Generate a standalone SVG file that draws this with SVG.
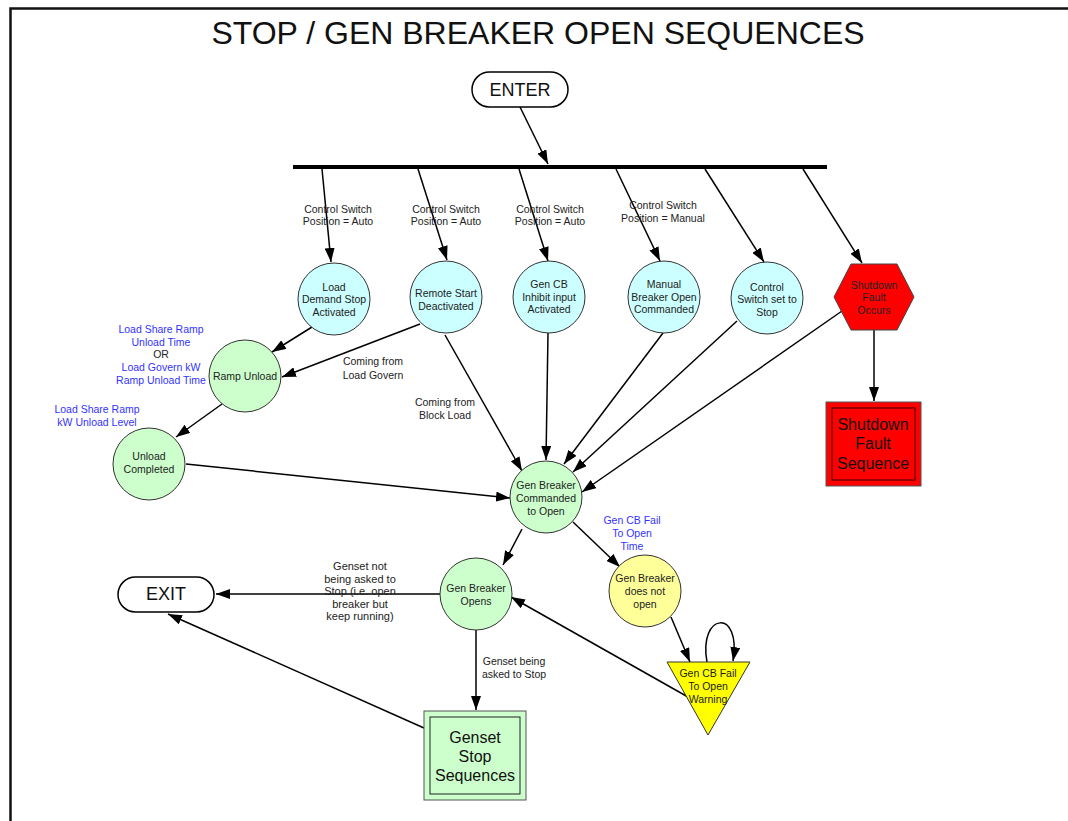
<svg xmlns="http://www.w3.org/2000/svg" width="1068" height="821" viewBox="0 0 1068 821">
  <style>
    text { font-family: "Liberation Sans", Arial, sans-serif; text-anchor: middle; }
    .sm { font-size: 10.5px; fill: #222; }
    .md { font-size: 11px; fill: #222; }
    .blue { font-size: 10.5px; fill: #3333ff; }
    .big { font-size: 16px; fill: #111; }
    .term { font-size: 18px; fill: #111; }
    .cyan { fill: #ccffff; stroke: #333; stroke-width: 1; }
    .green { fill: #ccffcc; stroke: #333; stroke-width: 1; }
    .pale { fill: #ffff99; stroke: #333; stroke-width: 1; }
    .conn line, .conn path { stroke: #000; stroke-width: 1.5; fill: none; marker-end: url(#arrow); }
  </style>
  <defs>
    <marker id="arrow" markerUnits="userSpaceOnUse" viewBox="0 0 14 10" markerWidth="14" markerHeight="10" refX="14" refY="5" orient="auto">
      <path d="M0,0 L14,5 L0,10 z" fill="#000"/>
    </marker>
  </defs>

  <rect width="1068" height="821" fill="#fff"/>

  <!-- frame -->
  <path d="M10.5,821 V8.5 H1068" fill="none" stroke="#111" stroke-width="2.5"/>

  <text x="538" y="44" style="font-size:32px" fill="#111">STOP / GEN BREAKER OPEN SEQUENCES</text>

  <!-- sync bar -->
  <line x1="293" y1="167" x2="827" y2="167" stroke="#000" stroke-width="4"/>

  <!-- connectors -->
  <g id="connectors" class="conn">
    <line x1="520" y1="107" x2="548" y2="164"/>
    <line x1="322" y1="169" x2="331" y2="262"/>
    <line x1="418" y1="169" x2="447" y2="260"/>
    <line x1="519" y1="169" x2="548" y2="261"/>
    <line x1="616" y1="169" x2="660" y2="261"/>
    <line x1="705" y1="169" x2="764" y2="262"/>
    <line x1="803" y1="169" x2="862" y2="263"/>
    <line x1="312" y1="327" x2="272" y2="352"/>
    <line x1="420" y1="324" x2="282" y2="377"/>
    <line x1="445" y1="335" x2="522" y2="471"/>
    <line x1="548" y1="333" x2="546" y2="460"/>
    <line x1="663" y1="333" x2="564" y2="464"/>
    <line x1="737" y1="321" x2="573" y2="472"/>
    <line x1="842" y1="311" x2="582" y2="492"/>
    <line x1="874" y1="330" x2="874" y2="401"/>
    <line x1="222" y1="404" x2="176" y2="437"/>
    <line x1="186" y1="464" x2="510" y2="498"/>
    <line x1="522" y1="529" x2="503" y2="565"/>
    <line x1="573" y1="522" x2="620" y2="567"/>
    <line x1="440" y1="594" x2="216" y2="594"/>
    <line x1="476" y1="630" x2="476" y2="710"/>
    <line x1="671" y1="617" x2="690" y2="662"/>
    <line x1="688" y1="697" x2="511" y2="597"/>
    <path d="M707,662 C698,612 742,608 733,661"/>
    <line x1="424" y1="728" x2="168" y2="614"/>
  </g>

  <!-- connector labels -->
  <g id="labels">
    <text class="sm" x="338" y="213">Control Switch</text>
    <text class="sm" x="338" y="225">Position = Auto</text>
    <text class="sm" x="446" y="213">Control Switch</text>
    <text class="sm" x="446" y="225">Position = Auto</text>
    <text class="sm" x="550" y="213">Control Switch</text>
    <text class="sm" x="550" y="225">Position = Auto</text>
    <text class="sm" x="663" y="209">Control Switch</text>
    <text class="sm" x="663" y="222">Position = Manual</text>
    <text class="sm" x="373" y="365">Coming from</text>
    <text class="sm" x="373" y="379">Load Govern</text>
    <text class="sm" x="445" y="406">Coming from</text>
    <text class="sm" x="445" y="419">Block Load</text>
    <text class="blue" x="161" y="333">Load Share Ramp</text>
    <text class="blue" x="161" y="346">Unload Time</text>
    <text class="sm" x="161" y="358">OR</text>
    <text class="blue" x="161" y="371">Load Govern kW</text>
    <text class="blue" x="161" y="384">Ramp Unload Time</text>
    <text class="blue" x="97" y="413">Load Share Ramp</text>
    <text class="blue" x="97" y="426">kW Unload Level</text>
    <text class="blue" x="632" y="524">Gen CB Fail</text>
    <text class="blue" x="632" y="537">To Open</text>
    <text class="blue" x="632" y="550">Time</text>
    <text class="md" x="360" y="570">Genset not</text>
    <text class="md" x="360" y="583">being asked to</text>
    <text class="md" x="360" y="595">Stop (i.e. open</text>
    <text class="md" x="360" y="608">breaker but</text>
    <text class="md" x="360" y="620">keep running)</text>
    <text class="sm" x="514" y="665">Genset being</text>
    <text class="sm" x="514" y="678">asked to Stop</text>
  </g>

  <!-- nodes -->
  <g id="enter">
    <rect x="472" y="72" width="96" height="35" rx="17.5" fill="#fff" stroke="#000" stroke-width="1.5"/>
    <text class="term" x="520" y="96">ENTER</text>
  </g>

  <g id="load-demand-stop">
    <circle class="cyan" cx="334" cy="299" r="36"/>
    <text class="sm" x="334" y="291">Load</text>
    <text class="sm" x="334" y="303">Demand Stop</text>
    <text class="sm" x="334" y="316">Activated</text>
  </g>
  <g id="remote-start">
    <circle class="cyan" cx="446" cy="297" r="36"/>
    <text class="sm" x="446" y="297">Remote Start</text>
    <text class="sm" x="446" y="310">Deactivated</text>
  </g>
  <g id="gen-cb-inhibit">
    <circle class="cyan" cx="549" cy="297" r="36"/>
    <text class="sm" x="549" y="288">Gen CB</text>
    <text class="sm" x="549" y="301">Inhibit input</text>
    <text class="sm" x="549" y="313">Activated</text>
  </g>
  <g id="manual-open">
    <circle class="cyan" cx="664" cy="297" r="36"/>
    <text class="sm" x="664" y="288">Manual</text>
    <text class="sm" x="664" y="301">Breaker Open</text>
    <text class="sm" x="664" y="313">Commanded</text>
  </g>
  <g id="switch-stop">
    <circle class="cyan" cx="767" cy="298" r="36"/>
    <text class="sm" x="767" y="291">Control</text>
    <text class="sm" x="767" y="303">Switch set to</text>
    <text class="sm" x="767" y="316">Stop</text>
  </g>
  <g id="shutdown-occurs">
    <polygon points="834,297 851,264 897,264 914,297 897,330 851,330" fill="#ff0000" stroke="#444" stroke-width="1"/>
    <text class="sm" x="874" y="289">Shutdown</text>
    <text class="sm" x="874" y="301">Fault</text>
    <text class="sm" x="874" y="314">Occurs</text>
  </g>
  <g id="shutdown-sequence">
    <rect x="826" y="402" width="95" height="84" fill="#ff0000" stroke="#555" stroke-width="1"/>
    <rect x="832" y="408" width="83" height="72" fill="none" stroke="#300" stroke-width="1"/>
    <text class="big" x="873" y="430">Shutdown</text>
    <text class="big" x="873" y="449">Fault</text>
    <text class="big" x="873" y="469">Sequence</text>
  </g>
  <g id="ramp-unload">
    <circle class="green" cx="245" cy="376" r="36"/>
    <text class="sm" x="245" y="380">Ramp Unload</text>
  </g>
  <g id="unload-completed">
    <circle class="green" cx="149" cy="464" r="36"/>
    <text class="sm" x="149" y="460">Unload</text>
    <text class="sm" x="149" y="473">Completed</text>
  </g>
  <g id="breaker-commanded">
    <circle class="green" cx="546" cy="497" r="36"/>
    <text class="sm" x="546" y="489">Gen Breaker</text>
    <text class="sm" x="546" y="502">Commanded</text>
    <text class="sm" x="546" y="515">to Open</text>
  </g>
  <g id="breaker-opens">
    <circle class="green" cx="476" cy="594" r="36"/>
    <text class="sm" x="476" y="592">Gen Breaker</text>
    <text class="sm" x="476" y="605">Opens</text>
  </g>
  <g id="breaker-not-open">
    <circle class="pale" cx="645" cy="591" r="36"/>
    <text class="sm" x="645" y="582">Gen Breaker</text>
    <text class="sm" x="645" y="595">does not</text>
    <text class="sm" x="645" y="608">open</text>
  </g>
  <g id="fail-warning">
    <polygon points="667,662 750,662 708,735" fill="#ffff00" stroke="#333" stroke-width="1"/>
    <text class="sm" x="708" y="677">Gen CB Fail</text>
    <text class="sm" x="708" y="690">To Open</text>
    <text class="sm" x="708" y="703">Warning</text>
  </g>
  <g id="genset-stop">
    <rect x="424" y="711" width="102" height="89" fill="#ccffcc" stroke="#555" stroke-width="1"/>
    <rect x="430" y="717" width="90" height="77" fill="none" stroke="#222" stroke-width="1"/>
    <text class="big" x="475" y="743">Genset</text>
    <text class="big" x="475" y="762">Stop</text>
    <text class="big" x="475" y="781">Sequences</text>
  </g>
  <g id="exit">
    <rect x="118" y="577" width="96" height="35" rx="17.5" fill="#fff" stroke="#000" stroke-width="1.5"/>
    <text class="term" x="166" y="600">EXIT</text>
  </g>
</svg>
